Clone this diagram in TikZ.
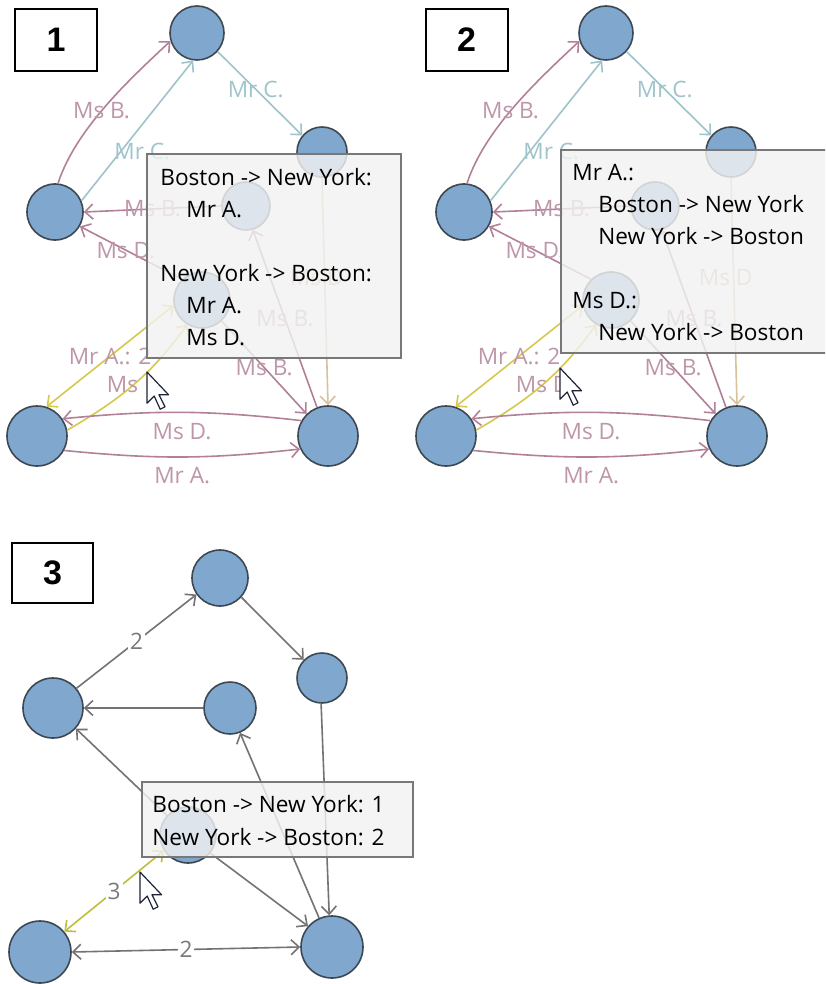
\documentclass[tikz,border=0pt]{standalone}
\usepackage{fontspec}
\setmainfont{Open Sans}
\setsansfont{Liberation Sans}
\usetikzlibrary{arrows.meta}
\definecolor{cityfill}{RGB}{128,168,206}
\definecolor{cityline}{RGB}{62,72,82}
\definecolor{msbline}{RGB}{178,128,152}
\definecolor{msbtext}{RGB}{190,150,170}
\definecolor{mrcline}{RGB}{158,195,202}
\definecolor{mrctext}{RGB}{160,196,204}
\definecolor{hilite}{RGB}{214,200,78}
\definecolor{msdline}{RGB}{216,194,158}
\definecolor{msdtext}{RGB}{205,175,160}
\definecolor{aggr}{RGB}{115,115,115}
\definecolor{aggrtext}{RGB}{120,120,120}
\definecolor{aggrhi}{RGB}{190,190,60}
\definecolor{tipfill}{RGB}{242,242,242}
\definecolor{tipline}{RGB}{120,120,120}
\definecolor{cursorline}{RGB}{30,35,55}
\tikzset{
  city/.style={circle,draw=cityline,fill=cityfill,line width=0.8pt,inner sep=0pt},
  flow/.style={line width=0.8pt,-{Straight Barb[length=4pt,width=7.5pt]}},
  both/.style={line width=0.8pt,{Straight Barb[length=4pt,width=7.5pt]}-{Straight Barb[length=4pt,width=7.5pt]}},
  who/.style={font=\fontsize{11.3}{13}\selectfont,inner sep=1pt},
  tip/.style={draw=tipline,fill=tipfill,fill opacity=0.82,line width=0.6pt},
  tiptext/.style={font=\fontsize{11.3}{16}\selectfont,text=black,align=left,anchor=north west,inner sep=0pt},
  panel/.style={draw=black,line width=1pt,fill=white,minimum width=41pt,minimum height=31pt,inner sep=0pt,font=\sffamily\bfseries\fontsize{17}{17}\selectfont},
  pointer/.pic={\draw[fill=white,draw=cursorline,line width=0.6pt,line join=round,scale=1.2] (0,0) -- (0,-26) -- (6,-20) -- (11,-31) -- (15,-29) -- (10,-19) -- (18,-19) -- cycle;}
}
\begin{document}
\begin{tikzpicture}[x=0.5pt,y=0.5pt]
\useasboundingbox (0,0) rectangle (825,-984);
\clip (0,0) rectangle (825,-984);
\fill[white] (0,0) rectangle (825,-984);
%P1 and P2
\foreach \dx/\p/\lbl in {0/a/Ms\phantom{ D}, 409/b/Ms D}{
\begin{scope}[xshift=\dx*0.5pt]
\node[city,minimum size=27pt] (\p-T) at (197,-33) {};
\node[city,minimum size=25pt] (\p-R) at (322,-152) {};
\node[city,minimum size=28pt] (\p-L) at (55,-212) {};
\node[city,minimum size=24pt] (\p-M1) at (246,-206) {};
\node[city,minimum size=28pt] (\p-M2) at (202,-300) {};
\node[city,minimum size=30pt] (\p-BL) at (37,-436) {};
\node[city,minimum size=30pt] (\p-BR) at (328,-436) {};

\draw[flow,msbline] (\p-L.84) to[out=72,in=223,looseness=0.8] node[who,text=msbtext,pos=0.47]{Ms B.} (\p-T.197);
\draw[flow,mrcline] (\p-L.23) -- node[who,text=mrctext,pos=0.27,anchor=south west]{Mr C.} (\p-T.262);
\draw[flow,mrcline] (\p-T.318) -- node[who,text=mrctext,pos=0.45]{Mr C.} (\p-R.140);
\draw[flow,msbline] (\p-M1.west) -- node[who,text=msbtext]{Ms B.} (\p-L.east);
\draw[flow,msbline] (\p-M2.134) -- node[who,text=msbtext,pos=0.55]{Ms D.} (\p-L.330);
\draw[both,hilite] (\p-BL.72) -- node[who,text=msbtext]{Mr A.: 2} (\p-M2.191);
\draw[flow,hilite] (\p-BL.11) to[out=30,in=234] node[who,text=msbtext]{\lbl} (\p-M2.239);
\draw[flow,msbline] (\p-BR.150) to[bend right=6] node[who,text=msbtext,below=4pt]{Ms D.} (\p-BL.34);
\draw[flow,msbline] (\p-BL.332) to[bend right=6] node[who,text=msbtext,below=4pt]{Mr A.} (\p-BR.205);
\draw[flow,msbline] (\p-M2.313) -- node[who,text=msbtext]{Ms B.} (\p-BR.134);
\draw[flow,msbline] (\p-BR.111) -- node[who,text=msbtext]{Ms B.} (\p-M1.286);
\draw[flow,msdline] (\p-R.south) -- node[who,text=msdtext,pos=0.44,xshift=-4pt]{Ms D} (\p-BR.north);
\end{scope}
}
\node[panel] (n1) at (56,-40) {1};
\node[panel] (n2) at (466.5,-40) {2};

%tooltip P1
\draw[tip] (147,-154) rectangle (401,-358);
\node[tiptext] (tip1) at (160,-168) {Boston -> New York:\\\hspace*{13pt}Mr A.\\[16pt]New York -> Boston:\\\hspace*{13pt}Mr A.\\\hspace*{13pt}Ms D.};
\pic at (147,-372) {pointer};

%tooltip P2
\draw[tip] (561,-150) rectangle (830,-353);
\node[tiptext] (tip2) at (572,-164) {Mr A.:\\\hspace*{13pt}Boston -> New York\\\hspace*{13pt}New York -> Boston\\[16pt]Ms D.:\\\hspace*{13pt}New York -> Boston};
\pic at (560,-368) {pointer};

%P3
\node[panel,minimum width=40.5pt,minimum height=30pt] (n3) at (52.5,-573) {3};
\node[city,minimum size=28pt] (c-T) at (220,-578) {};
\node[city,minimum size=25pt] (c-R) at (322,-678) {};
\node[city,minimum size=30pt] (c-L) at (53,-708) {};
\node[city,minimum size=26pt] (c-M1) at (230,-708) {};
\node[city,minimum size=28pt] (c-M2) at (188,-835) {};
\node[city,minimum size=31pt] (c-BL) at (40,-952) {};
\node[city,minimum size=31pt] (c-BR) at (332,-947) {};

\draw[flow,aggr] (c-L.40) -- node[who,fill=white,text=aggrtext]{2} (c-T.215);
\draw[flow,aggr] (c-T.318) -- (c-R.135);
\draw[flow,aggr] (c-M1.west) -- (c-L.east);
\draw[flow,aggr] (c-M2.137) -- (c-L.318);
\draw[flow,aggr] (c-BR.114) -- (c-M1.292);
\draw[flow,aggr] (c-R.268) -- (c-BR.95);
\draw[flow,aggr] (c-M2.321) -- (c-BR.139);
\draw[both,aggrhi] (c-BL.40) -- node[who,fill=white,text=aggrtext]{3} (c-M2.213);
\draw[both,aggr] (c-BL.east) -- node[who,fill=white,text=aggrtext]{2} (c-BR.west);

%tooltip P3
\draw[tip] (142,-782) rectangle (413,-857);
\node[tiptext,font=\fontsize{11.3}{16.5}\selectfont] (tip3) at (152,-795) {Boston -> New York: 1\\New York -> Boston: 2};
\pic at (140,-872) {pointer};
\end{tikzpicture}
\end{document}
